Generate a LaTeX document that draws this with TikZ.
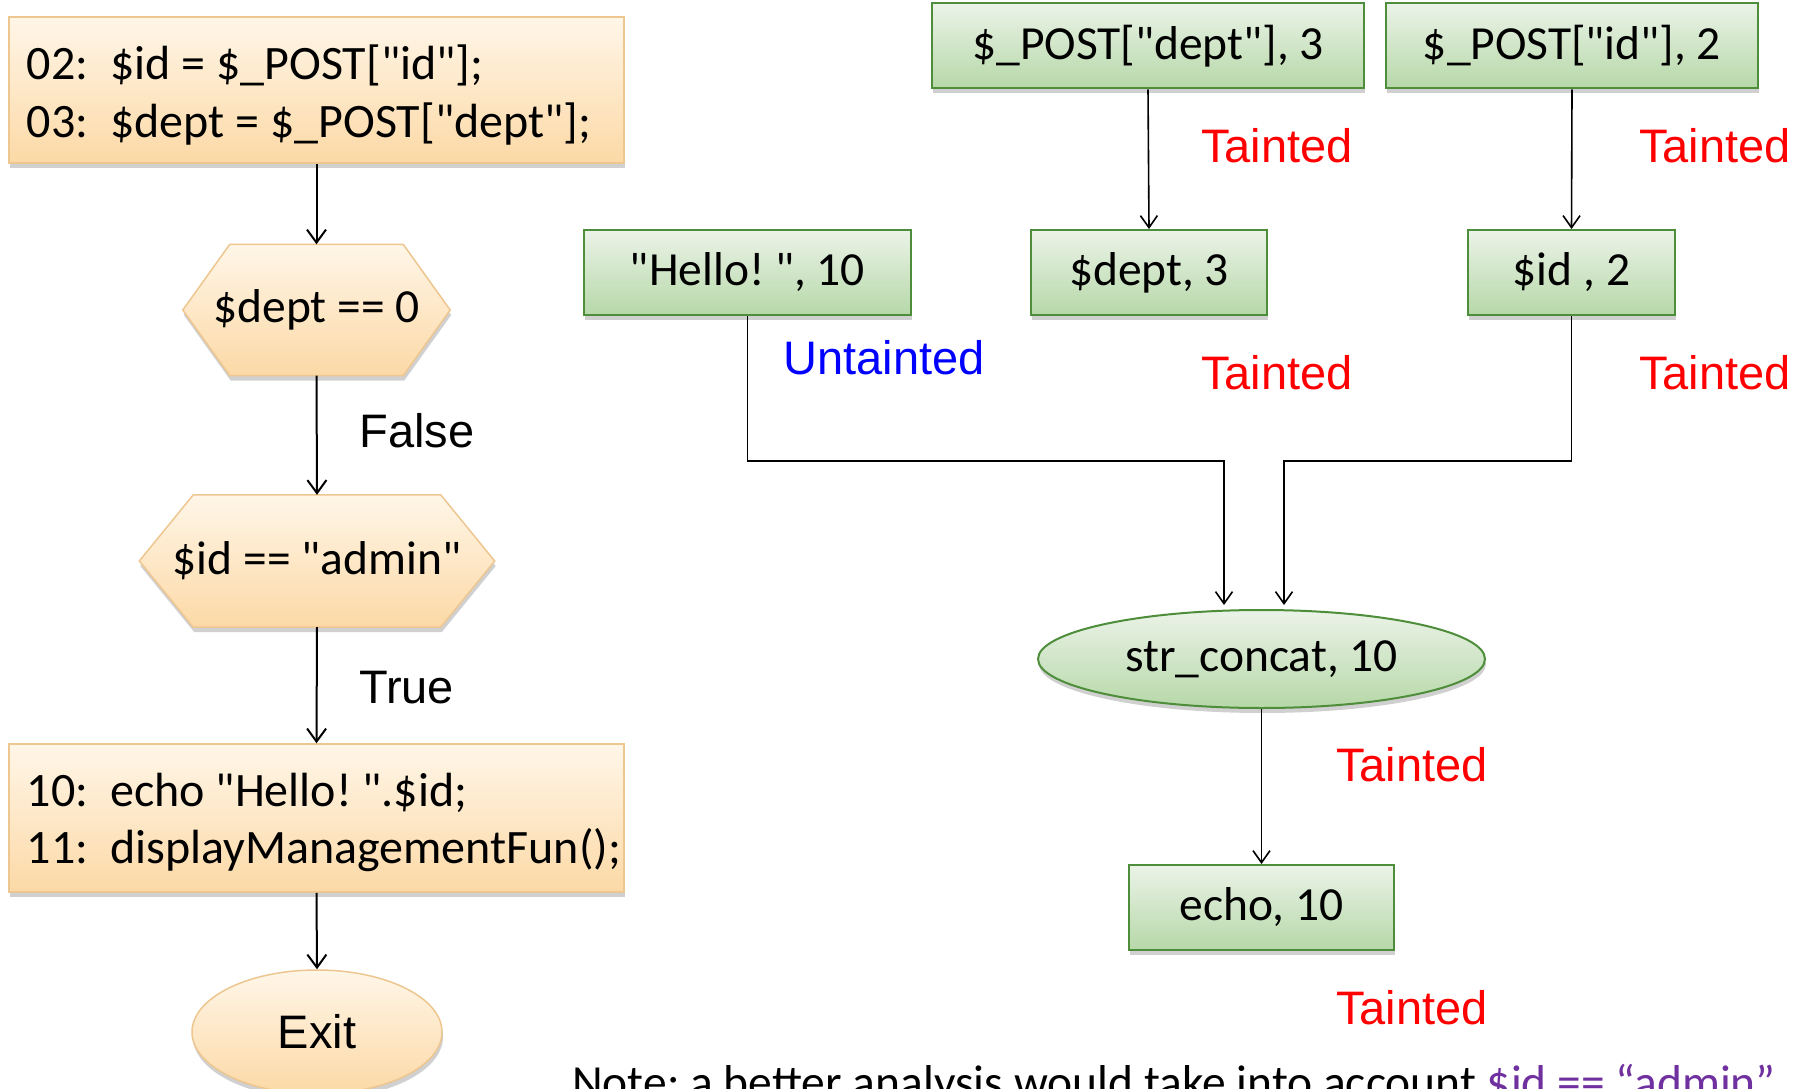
\documentclass[tikz,border=0pt]{standalone}
\usepackage{fontspec}
\setmainfont{Carlito}[Ligatures=TeXOff]
\newfontfamily\arialf{Liberation Sans}[Ligatures=TeXOff]
\usetikzlibrary{arrows.meta,shapes.geometric,shadows,backgrounds,calc}
\definecolor{otop}{HTML}{FFF6E8}
\definecolor{obot}{HTML}{FCD9A6}
\definecolor{obord}{HTML}{EDC690}
\definecolor{gtop}{HTML}{EBF3E8}
\definecolor{gbot}{HTML}{B6D8A8}
\definecolor{gbord}{HTML}{4E8E3A}
\definecolor{tred}{HTML}{FF0000}
\definecolor{tblue}{HTML}{0000FF}
\definecolor{npurp}{HTML}{7030A0}
\frenchspacing
\begin{document}
\begin{tikzpicture}[x=1pt,y=-1pt,
  every node/.style={font=\fontsize{47.5}{57.4}\selectfont},
  shad/.style={drop shadow={shadow xshift=1pt,shadow yshift=-5pt,opacity=0.3,fill=black!60}},
  obox/.style={rectangle,draw=obord,line width=1.5pt,top color=otop,bottom color=obot,shad,inner sep=0pt,
    font=\fontsize{48}{57.4}\selectfont},
  hexsty/.style={draw=obord,line width=1.5pt,top color=otop,bottom color=obot,shad},
  hexnode/.style={rectangle,inner sep=0pt},
  gbox/.style={rectangle,draw=gbord,line width=2pt,top color=gtop,bottom color=gbot,shad,inner sep=0pt,minimum height=85pt},
  arr/.style={-{Straight Barb[length=13pt,width=19pt]},line width=2pt},
  arrt/.style={-{Straight Barb[length=12pt,width=17pt]},line width=1.6pt},
  lab/.style={font=\arialf\fontsize{47}{56}\selectfont,inner sep=0pt}]
\useasboundingbox (0,0) rectangle (1804,1089);

% ---- left column ----
\node[obox,minimum width=615pt,minimum height=146pt,text width=579pt,align=left] (b1) at (316.5,90)
  {\spaceskip=0pt\xspaceskip=0pt\mbox{\rule{0pt}{45pt}02:\ \ \$id = \$\_POST["id"];}\\\mbox{03:\ \ \$dept = \$\_POST["dept"];}};
\node[hexnode,minimum width=267pt,minimum height=131pt] (h1) at (316.5,310) {\$dept == 0};
\node[hexnode,minimum width=355pt,minimum height=132pt] (h2) at (317,561) {\$id == "admin"};
\node[obox,minimum width=615pt,minimum height=148pt,text width=579pt,align=left] (b2) at (316.5,818)
  {\spaceskip=0pt\xspaceskip=0pt\mbox{\rule{0pt}{42pt}10:\ \ echo "Hello!\ ".\$id;}\\\mbox{11:\ \ displayManagementFun();}};
\node[ellipse,draw=obord,line width=1.5pt,top color=otop,bottom color=obot,shad,inner sep=0pt,
  minimum width=250pt,minimum height=124pt,font=\arialf\fontsize{47}{56}\selectfont] (exit) at (317,1032) {Exit};

\begin{pgfonlayer}{background}
\fill[white] (0,0) rectangle (1804,1089);
\path[hexsty] (h1.west) -- ([xshift=47pt]h1.north west) -- ([xshift=-47pt]h1.north east) -- (h1.east)
  -- ([xshift=-47pt]h1.south east) -- ([xshift=47pt]h1.south west) -- cycle;
\path[hexsty] (h2.west) -- ([xshift=54pt]h2.north west) -- ([xshift=-54pt]h2.north east) -- (h2.east)
  -- ([xshift=-54pt]h2.south east) -- ([xshift=54pt]h2.south west) -- cycle;
\end{pgfonlayer}

\draw[arr] (b1.south) -- (h1.north);
\draw[arr] (h1.south) -- (h2.north);
\draw[arr] (h2.south) -- (b2.north);
\draw[arr] (b2.south) -- (exit.north);
\node[lab] (lf) at (417,431) {False};
\node[lab] (lt) at (406.5,688) {True};

% ---- right graph ----
\node[gbox,minimum width=432pt] (pd) at (1148,46) {\$\_POST["dept"], 3};
\node[gbox,minimum width=372pt] (pi) at (1572,46) {\$\_POST["id"], 2};
\node[gbox,minimum width=327pt] (hello) at (747.5,272.5) {"Hello!\ ", 10};
\node[gbox,minimum width=236pt] (d3) at (1149,272.5) {\$dept, 3};
\node[gbox,minimum width=207pt] (i2) at (1571.5,272.5) {\$id , 2};
\node[ellipse,draw=gbord,line width=2pt,top color=gtop,bottom color=gbot,shad,inner sep=0pt,
  minimum width=447pt,minimum height=98pt] (sc) at (1261.5,659) {str\_concat, 10};
\node[gbox,minimum width=265pt] (echo) at (1261.5,907.5) {echo, 10};

\coordinate (j1) at (1224,461);
\coordinate (j2) at (1284,461);
\draw[arrt] (pd.south) -- (d3.north);
\draw[arrt] (pi.south) -- (i2.north);
\draw[arrt] (hello.south) |- (j1) -- ([yshift=4pt]j1 |- sc.north);
\draw[arrt] (i2.south) |- (j2) -- ([yshift=4pt]j2 |- sc.north);
\draw[arrt] (sc.south) -- (echo.north);

\node[lab,text=tred] (ta1) at (1277,146) {Tainted};
\node[lab,text=tred] (ta2) at (1715,146) {Tainted};
\node[lab,text=tblue] (ut) at (884,358) {Untainted};
\node[lab,text=tred] (ta3) at (1277,373) {Tainted};
\node[lab,text=tred] (ta4) at (1715,373) {Tainted};
\node[lab,text=tred] (ta5) at (1412,765) {Tainted};
\node[lab,text=tred] (ta6) at (1412,1008) {Tainted};

\node[anchor=base west,inner sep=0pt] (note) at (572,1098)
  {Note: a better analysis would take into account \textcolor{npurp}{\$id == “admin”}};
\end{tikzpicture}
\end{document}
